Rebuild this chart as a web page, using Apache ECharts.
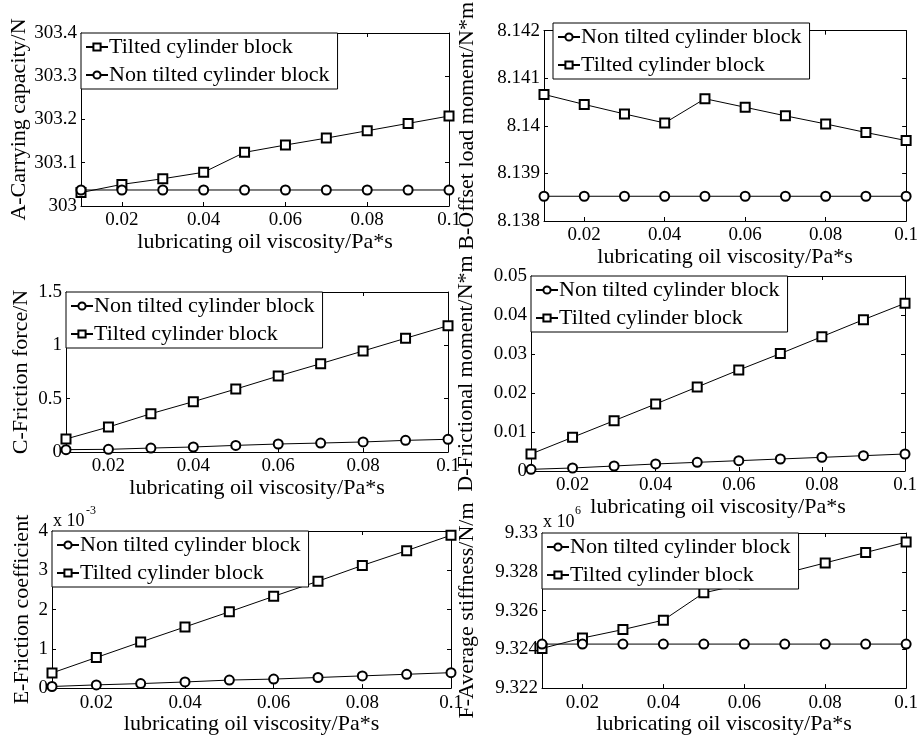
<!DOCTYPE html>
<html>
<head>
<meta charset="utf-8">
<script src="https://cdn.jsdelivr.net/npm/echarts@6/dist/echarts.min.js"></script>
<style>
  html, body { margin: 0; padding: 0; background: #fff; }
  #main { width: 921px; height: 736px; }
</style>
</head>
<body>
<div id="main"></div>
<script>
// x values (lubricating oil viscosity, Pa*s) and x tick labels
const viscosity = [0.01, 0.02, 0.03, 0.04, 0.05, 0.06, 0.07, 0.08, 0.09, 0.1];
const xTicks = [0.02, 0.04, 0.06, 0.08, 0.1];

// A - carrying capacity (N)
const carryTilted = [303.031, 303.050, 303.063, 303.078, 303.124, 303.141, 303.157, 303.174, 303.191, 303.208];
const carryNon = [303.037, 303.037, 303.037, 303.037, 303.037, 303.037, 303.037, 303.037, 303.037, 303.037];

// B - offset load moment (N*m)
const offsetNon = [8.13852, 8.13852, 8.13852, 8.13852, 8.13852, 8.13852, 8.13852, 8.13852, 8.13852, 8.13852];
const offsetTilted = [8.14066, 8.14045, 8.14025, 8.14006, 8.14057, 8.14039, 8.14021, 8.14004, 8.13986, 8.13969];

// C - friction force (N)
const frictionNon = [0.022, 0.025, 0.037, 0.047, 0.062, 0.075, 0.084, 0.094, 0.109, 0.119];
const frictionTilted = [0.122, 0.234, 0.359, 0.472, 0.590, 0.712, 0.828, 0.947, 1.066, 1.184];

// D - frictional moment (N*m)
const momentNon = [0.00043, 0.00077, 0.00128, 0.0018, 0.00222, 0.00265, 0.00308, 0.0035, 0.00393, 0.00436];
const momentTilted = [0.00436, 0.00863, 0.0129, 0.01718, 0.02154, 0.0259, 0.0301, 0.03444, 0.0388, 0.0430];

// E - friction coefficient
const coefNon = [0.041e-3, 0.082e-3, 0.115e-3, 0.156e-3, 0.205e-3, 0.230e-3, 0.270e-3, 0.311e-3, 0.352e-3, 0.393e-3];
const coefTilted = [0.385e-3, 0.779e-3, 1.172e-3, 1.557e-3, 1.943e-3, 2.336e-3, 2.721e-3, 3.123e-3, 3.500e-3, 3.893e-3];

// F - average stiffness (N/m)
const stiffNon = [9324270, 9324270, 9324270, 9324270, 9324270, 9324270, 9324270, 9324270, 9324270, 9324270];
const stiffTilted = [9324046, 9324583, 9325019, 9325505, 9326914, 9327380, 9327920, 9328457, 9328994, 9329530];

const NAME_T = 'Tilted cylinder block';
const NAME_N = 'Non tilted cylinder block';
const FONT = "'Liberation Serif', 'Times New Roman', serif";

function pairs(ys) {
  return viscosity.map((x, i) => [x, ys[i]]);
}

const panels = [
  { grid: [81, 33, 368, 173], y: [303, 303.4, 0.1], yName: 'A-Carrying capacity/N', yGap: 47,
    tilted: carryTilted, non: carryNon, order: [NAME_T, NAME_N], legend: [81, 33] },
  { grid: [544, 23, 366, 198], y: [8.138, 8.142, 0.001], yName: 'B-Offset load moment/N*m', yGap: 66,
    tilted: offsetTilted, non: offsetNon, order: [NAME_N, NAME_T], legend: [553, 23] },
  { grid: [66, 292, 382, 160], y: [0, 1.5, 0.5], yName: 'C-Friction force/N', yGap: 34,
    tilted: frictionTilted, non: frictionNon, order: [NAME_N, NAME_T], legend: [66, 292] },
  { grid: [531, 276, 374, 195], y: [0, 0.05, 0.01], yName: 'D-Frictional moment/N*m', yGap: 54,
    tilted: momentTilted, non: momentNon, order: [NAME_N, NAME_T], legend: [531, 276] },
  { grid: [52, 531, 399, 162], y: [0, 0.004, 0.001], yName: 'E-Friction coefficient', yGap: 19,
    tilted: coefTilted, non: coefNon, order: [NAME_N, NAME_T], legend: [52, 531],
    fmt: v => String(+(v * 1000).toFixed(3)) },
  { grid: [542, 533, 367, 159], y: [9322000, 9330000, 2000], yName: 'F-Average stiffness/N/m', yGap: 64,
    tilted: stiffTilted, non: stiffNon, order: [NAME_N, NAME_T], legend: [542, 533],
    fmt: v => String(+(v / 1e6).toFixed(3)) }
];

const grids = [], xAxes = [], yAxes = [], series = [], legends = [];

const lineAxis = { lineStyle: { color: '#000', width: 1 }, onZero: false };
const tickIn = { inside: true, length: 4, lineStyle: { color: '#000', width: 1 } };

panels.forEach((p, i) => {
  grids.push({ left: p.grid[0], top: p.grid[1], width: p.grid[2], height: p.grid[3] });

  xAxes.push({
    type: 'value', gridIndex: i, position: 'bottom', min: 0.01, max: 0.1,
    axisLine: lineAxis, splitLine: { show: false },
    axisTick: Object.assign({ customValues: xTicks }, tickIn),
    axisLabel: { customValues: xTicks, margin: 5, color: '#000', fontFamily: FONT, fontSize: 19,
      formatter: v => String(+v.toFixed(2)) },
    name: 'lubricating oil viscosity/Pa*s', nameLocation: 'middle', nameGap: 20,
    nameTextStyle: { color: '#000', fontFamily: FONT, fontSize: 22 }
  });
  xAxes.push({
    type: 'value', gridIndex: i, position: 'top', min: 0.01, max: 0.1,
    axisLine: lineAxis, splitLine: { show: false },
    axisTick: Object.assign({ customValues: xTicks }, tickIn),
    axisLabel: { show: false }
  });

  yAxes.push({
    type: 'value', gridIndex: i, position: 'left', min: p.y[0], max: p.y[1], interval: p.y[2],
    axisLine: lineAxis, splitLine: { show: false }, axisTick: tickIn,
    axisLabel: { margin: 4, color: '#000', fontFamily: FONT, fontSize: 19, formatter: p.fmt },
    name: p.yName, nameLocation: 'middle', nameGap: p.yGap,
    nameTextStyle: { color: '#000', fontFamily: FONT, fontSize: 22 }
  });
  yAxes.push({
    type: 'value', gridIndex: i, position: 'right', min: p.y[0], max: p.y[1], interval: p.y[2],
    axisLine: lineAxis, splitLine: { show: false }, axisTick: tickIn,
    axisLabel: { show: false }
  });

  const common = {
    type: 'line', xAxisIndex: 2 * i, yAxisIndex: 2 * i, symbolSize: 9,
    lineStyle: { color: '#000', width: 1 },
    itemStyle: { color: '#000', borderColor: '#000', borderWidth: 1 },
    emphasis: { disabled: true }, animation: false
  };
  series.push(Object.assign({ name: NAME_T, symbol: 'emptyRect', data: pairs(p.tilted) }, common));
  series.push(Object.assign({ name: NAME_N, symbol: 'emptyCircle', data: pairs(p.non) }, common));

  legends.push({
    data: p.order, left: p.legend[0], top: p.legend[1], orient: 'vertical',
    backgroundColor: '#fff', borderColor: '#000', borderWidth: 1, borderRadius: 0,
    padding: [3, 8, 3, 4], itemGap: 6, itemWidth: 22, itemHeight: 9,
    selectedMode: false,
    textStyle: { color: '#000', fontFamily: FONT, fontSize: 22, padding: [0, 0, 0, -4] }
  });
});

// "x 10^n" multipliers above panels E and F
const graphics = [
  { type: 'text', x: 53, y: 512, style: { text: 'x 10', fill: '#000', font: "18px 'Liberation Serif'" } },
  { type: 'text', x: 86, y: 505, style: { text: '-3', fill: '#000', font: "12px 'Liberation Serif'" } },
  { type: 'text', x: 543, y: 513, style: { text: 'x 10', fill: '#000', font: "18px 'Liberation Serif'" } },
  { type: 'text', x: 575, y: 505, style: { text: '6', fill: '#000', font: "12px 'Liberation Serif'" } }
];

const chart = echarts.init(document.getElementById('main'));
chart.setOption({
  backgroundColor: '#fff',
  animation: false,
  grid: grids,
  xAxis: xAxes,
  yAxis: yAxes,
  legend: legends,
  series: series,
  graphic: graphics
});
</script>
</body>
</html>
